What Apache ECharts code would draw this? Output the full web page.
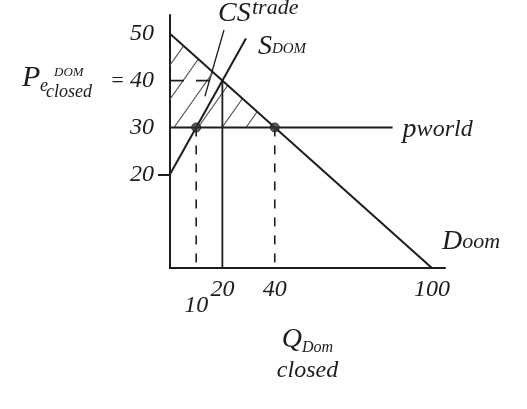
<!DOCTYPE html>
<html>
<head>
<meta charset="utf-8">
<script src="https://cdn.jsdelivr.net/npm/echarts@6/dist/echarts.min.js"></script>
<style>
  html, body { margin: 0; padding: 0; background: #fff; }
  #chart { width: 527px; height: 409px; }
</style>
</head>
<body>
<div id="chart"></div>
<script>
// Domestic market: closed-economy equilibrium vs. free trade at the world price.
const qTicks = [10, 20, 40, 100];
const pTicks = [20, 30, 40, 50];
const yTickMarks = [20];

const demandQ = [0, 100];
const demandP = [50, 0];
const supplyQ = [0, 29];
const supplyP = [20, 49];
const pWorldQ = [0, 85];
const pWorldP = [30, 30];

const closedQ = 20;          // Q Dom closed
const closedP = 40;          // Pe Dom closed
const tradeQ = [10, 40];     // quantity supplied / demanded at Pworld
const tradeP = [30, 30];

// consumer surplus under trade (hatched triangle)
const csQ = [0, 0, 40];
const csP = [50, 30, 30];

const ink = '#1d1d1d';
const hand = "'Liberation Serif', 'DejaVu Serif', serif";

const pairs = (xs, ys) => xs.map((x, i) => [x, ys[i]]);

function hatchPattern() {
  const w = 24, h = 34;
  const c = document.createElement('canvas');
  c.width = w; c.height = h;
  const g = c.getContext('2d');
  g.strokeStyle = '#555';
  g.lineWidth = 1.1;
  g.beginPath();
  g.moveTo(0, h); g.lineTo(w, 0);
  g.moveTo(-w, h); g.lineTo(0, 0);
  g.moveTo(w, h); g.lineTo(2 * w, 0);
  g.stroke();
  return { image: c, repeat: 'repeat' };
}

const chart = echarts.init(document.getElementById('chart'));

const lineBase = {
  type: 'line', symbol: 'none', silent: true, animation: false,
  lineStyle: { color: ink, width: 2 }
};

chart.setOption({
  animation: false,
  backgroundColor: '#fff',
  grid: { left: 170, right: 82, top: 15, bottom: 141 },
  xAxis: {
    type: 'value', min: 0, max: 105,
    axisLine: { show: true, lineStyle: { color: ink, width: 2 } },
    axisTick: { show: false },
    splitLine: { show: false },
    axisLabel: {
      customValues: qTicks,
      margin: 10,
      color: ink, fontFamily: hand, fontStyle: 'italic', fontSize: 24,
      formatter: v => v === qTicks[0] ? '{lo|' + v + '}' : String(v),
      rich: { lo: { padding: [16, 0, 0, 0], fontSize: 24, fontFamily: hand, fontStyle: 'italic', color: ink } }
    },
    name: '{q|Q}{d|Dom}\n{c|closed}',
    nameLocation: 'middle',
    nameGap: 58,
    nameTextStyle: {
      color: ink, align: 'center',
      rich: {
        q: { fontSize: 28, fontFamily: hand, fontStyle: 'italic', color: ink, verticalAlign: 'top', lineHeight: 30 },
        d: { fontSize: 16, fontFamily: hand, fontStyle: 'italic', color: ink, verticalAlign: 'bottom', lineHeight: 30 },
        c: { fontSize: 24, fontFamily: hand, fontStyle: 'italic', color: ink, lineHeight: 30 }
      }
    }
  },
  yAxis: {
    type: 'value', min: 0, max: 54,
    axisLine: { show: true, lineStyle: { color: ink, width: 2 } },
    axisTick: { show: true, customValues: yTickMarks, length: 12, lineStyle: { color: ink, width: 2 } },
    splitLine: { show: false },
    axisLabel: {
      customValues: pTicks,
      margin: 16,
      color: ink, fontFamily: hand, fontStyle: 'italic', fontSize: 24
    }
  },
  series: [
    {
      type: 'custom', silent: true, z: 1,
      data: [[csQ[0], csP[0]]],
      renderItem: (params, api) => ({
        type: 'polygon',
        shape: { points: csQ.map((q, i) => api.coord([q, csP[i]])) },
        style: { fill: hatchPattern(), stroke: null }
      })
    },
    Object.assign({}, lineBase, {
      name: 'Demand', data: pairs(demandQ, demandP), z: 3,
      endLabel: {
        show: true, offset: [2, -26],
        formatter: '{a|D}{b|oom}',
        rich: {
          a: { fontSize: 28, fontFamily: hand, fontStyle: 'italic', color: ink },
          b: { fontSize: 22, fontFamily: hand, fontStyle: 'italic', color: ink }
        }
      }
    }),
    Object.assign({}, lineBase, {
      name: 'Supply', data: pairs(supplyQ, supplyP), z: 3,
      endLabel: {
        show: true, offset: [4, 8],
        formatter: '{a|S}{b|DOM}',
        rich: {
          a: { fontSize: 28, fontFamily: hand, fontStyle: 'italic', color: ink },
          b: { fontSize: 15, fontFamily: hand, fontStyle: 'italic', color: ink, padding: [6, 0, 0, 0] }
        }
      }
    }),
    Object.assign({}, lineBase, {
      name: 'Pworld', data: pairs(pWorldQ, pWorldP), z: 3,
      endLabel: {
        show: true, offset: [2, 2],
        formatter: '{a|p}{b|world}',
        rich: {
          a: { fontSize: 28, fontFamily: hand, fontStyle: 'italic', color: ink },
          b: { fontSize: 24, fontFamily: hand, fontStyle: 'italic', color: ink }
        }
      }
    }),
    // closed-economy equilibrium: price guide and quantity drop line
    Object.assign({}, lineBase, {
      data: [[0, closedP], [closedQ, closedP]], z: 2,
      lineStyle: { color: ink, width: 1.6, type: [14, 12] }
    }),
    Object.assign({}, lineBase, {
      data: [[closedQ, closedP], [closedQ, 0]], z: 2,
      lineStyle: { color: ink, width: 1.8 }
    }),
    // quantities at the world price
    Object.assign({}, lineBase, {
      data: [[tradeQ[0], tradeP[0]], [tradeQ[0], 0]], z: 2,
      lineStyle: { color: ink, width: 1.6, type: [9, 9] }
    }),
    Object.assign({}, lineBase, {
      data: [[tradeQ[1], tradeP[1]], [tradeQ[1], 0]], z: 2,
      lineStyle: { color: ink, width: 1.6, type: [9, 9] }
    }),
    {
      type: 'scatter', silent: true, z: 4, symbolSize: 9,
      itemStyle: { color: '#333', borderColor: ink, borderWidth: 1 },
      data: pairs(tradeQ, tradeP)
    }
  ]
});

// annotations anchored to data positions
const toPx = (q, p) => chart.convertToPixel({ gridIndex: 0 }, [q, p]);
const axisX = toPx(0, 0)[0];
const y40 = toPx(0, closedP)[1];
const csCentre = toPx((csQ[0] + csQ[1] + csQ[2]) / 3, (csP[0] + csP[1] + csP[2]) / 3);
const txt = (text, x, y, size, extra) => Object.assign({
  type: 'text', x, y, silent: true,
  style: Object.assign({ text, fill: ink, font: 'italic ' + size + 'px ' + hand, textVerticalAlign: 'middle' }, extra || {})
});

chart.setOption({
  graphic: [
    txt('P', 22, y40 - 2, 30),
    txt('e', 40, y40 + 6, 18),
    txt('DOM', 54, y40 - 8, 13),
    txt('closed', 46, y40 + 12, 18),
    txt('=', axisX - 60, y40 + 1, 22),
    txt('CS', axisX + 48, 14, 28),
    txt('trade', axisX + 82, 8, 22),
    {
      type: 'line', silent: true,
      shape: { x1: csCentre[0], y1: csCentre[1], x2: axisX + 54, y2: 30 },
      style: { stroke: ink, lineWidth: 1.3 }
    }
  ]
});
</script>
</body>
</html>
